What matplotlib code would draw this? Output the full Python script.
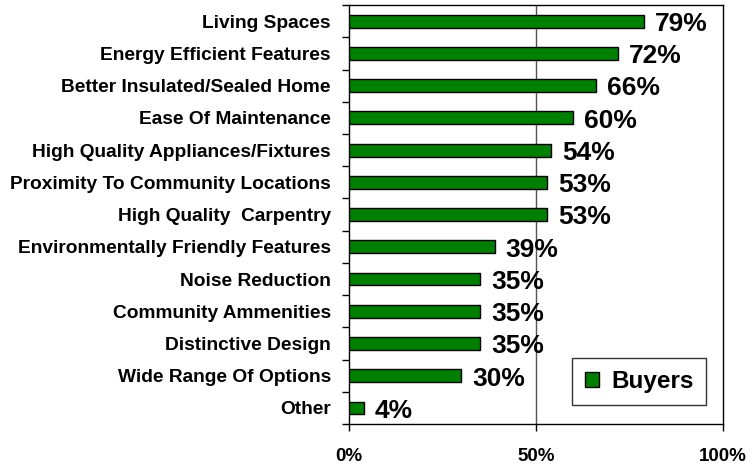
import matplotlib
matplotlib.use("Agg")
import matplotlib.pyplot as plt
import numpy as np

categories = ["Living Spaces", "Energy Efficient Features", "Better Insulated/Sealed Home",
              "Ease Of Maintenance", "High Quality Appliances/Fixtures",
              "Proximity To Community Locations", "High Quality  Carpentry",
              "Environmentally Friendly Features", "Noise Reduction", "Community Ammenities",
              "Distinctive Design", "Wide Range Of Options", "Other"]
values = [79, 72, 66, 60, 54, 53, 53, 39, 35, 35, 35, 30, 4]
xticks = [0, 50, 100]
xticklabels = ["0%", "50%", "100%"]

plt.rcParams['font.family'] = ['Liberation Sans', 'DejaVu Sans']
fig = plt.figure(figsize=(7.52, 4.65), dpi=100)
ax = fig.add_axes([0.464, 0.088, 0.497, 0.901])

y = np.arange(len(categories))
bars = ax.barh(y, values, height=0.4, color="#008000", edgecolor="black", linewidth=1,
               label="Buyers", zorder=3)
ax.set_ylim(len(categories) - 0.5, -0.5)
ax.set_xlim(0, 100)

ax.axvline(50, color="#555555", linewidth=1, zorder=1)

ax.set_yticks(y)
ax.set_yticklabels(categories, fontsize=13.8, fontweight="bold")
ax.tick_params(axis="y", which="major", length=0, pad=13)
ax.set_yticks(np.arange(-0.5, len(categories), 1.0), minor=True)
ax.tick_params(axis="y", which="minor", length=5, width=1, direction="out")

ax.set_xticks(xticks)
ax.set_xticklabels(xticklabels, fontsize=13.5, fontweight="bold")
ax.tick_params(axis="x", length=5, width=1, direction="out", pad=12)

for s in ax.spines.values():
    s.set_color("black")
    s.set_linewidth(1)

for yi, v in zip(y, values):
    ax.annotate(f"{v}%", (v, yi), xytext=(8, -2), textcoords="offset points",
                ha="left", va="center", fontsize=19, fontweight="bold", zorder=4)

leg = ax.legend(loc="lower right", bbox_to_anchor=(0.955, 0.045),
                prop={"weight": "bold", "size": 17.5}, frameon=True, fancybox=False,
                edgecolor="black", handlelength=0.6, handleheight=0.6, handletextpad=0.5,
                borderpad=0.5, borderaxespad=0)
leg.get_frame().set_linewidth(1)

fig.savefig("out.png", dpi=100)
